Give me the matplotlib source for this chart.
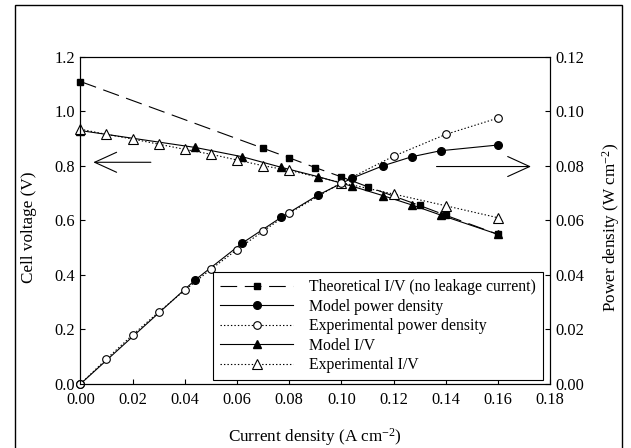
import matplotlib
matplotlib.use("Agg")
import matplotlib.pyplot as plt
from matplotlib.patches import Rectangle
from matplotlib.ticker import FormatStrFormatter, MultipleLocator

plt.rcParams['font.family'] = ['Liberation Serif', 'DejaVu Serif']
plt.rcParams['mathtext.fontset'] = 'custom'
plt.rcParams['mathtext.rm'] = 'Liberation Serif'
plt.rcParams['mathtext.default'] = 'regular'
plt.rcParams['lines.scale_dashes'] = False

# ---- data ----
theo_i = [0.0, 0.07, 0.08, 0.09, 0.10, 0.11, 0.13, 0.14, 0.16]
theo_v = [1.11, 0.865, 0.830, 0.794, 0.760, 0.724, 0.655, 0.619, 0.549]

model_i = [0.0, 0.044, 0.062, 0.077, 0.091, 0.104, 0.116, 0.127, 0.138, 0.160]
model_v = [0.930, 0.868, 0.834, 0.795, 0.761, 0.726, 0.691, 0.657, 0.620, 0.549]
model_p = [0.0, 0.0382, 0.0517, 0.0612, 0.0693, 0.0755, 0.0801, 0.0834, 0.0856, 0.0877]

exp_i = [0.0, 0.01, 0.02, 0.03, 0.04, 0.05, 0.06, 0.07, 0.08, 0.10, 0.12, 0.14, 0.16]
exp_v = [0.935, 0.916, 0.899, 0.880, 0.861, 0.843, 0.822, 0.801, 0.784, 0.739, 0.697, 0.654, 0.610]
exp_p = [0.0, 0.0092, 0.0180, 0.0264, 0.0344, 0.0421, 0.0493, 0.0561, 0.0627, 0.0739, 0.0836, 0.0916, 0.0976]

labels = ["Theoretical I/V (no leakage current)", "Model power density",
          "Experimental power density", "Model I/V", "Experimental I/V"]

FS_TICK = 11.8
FS_LEG = 11.3
FS_LAB = 12.3

fig = plt.figure(figsize=(6.31, 4.48), dpi=100)
fig.patches.append(Rectangle((0.0238, -0.05), 0.9615, 1.039, transform=fig.transFigure,
                             fill=False, edgecolor='black', linewidth=1.0, zorder=0))
ax = fig.add_axes([0.1274, 0.1429, 0.7446, 0.7299])
ax2 = ax.twinx()

lw = 0.8
h_theo, = ax.plot(theo_i, theo_v, color='black', lw=lw, dashes=(12, 5.5),
                  marker='s', ms=4.3, mfc='black', mec='black', clip_on=False)
h_miv, = ax.plot(model_i, model_v, color='black', lw=lw, ls='-',
                 marker='^', ms=6, mfc='black', mec='black', clip_on=False)
h_eiv, = ax.plot(exp_i, exp_v, color='black', lw=lw, dashes=(1, 1.5),
                 marker='^', ms=6.5, mfc='white', mec='black', mew=0.8, clip_on=False)
h_mp, = ax2.plot(model_i, model_p, color='black', lw=lw, ls='-',
                 marker='o', ms=5.5, mfc='black', mec='black', clip_on=False)
h_ep, = ax2.plot(exp_i, exp_p, color='black', lw=lw, dashes=(1, 1.5),
                 marker='o', ms=5.5, mfc='white', mec='black', mew=0.8, clip_on=False)

ax.set_xlim(0, 0.18)
ax.set_ylim(0, 1.2)
ax2.set_ylim(0, 0.12)
ax.xaxis.set_major_locator(MultipleLocator(0.02))
ax.yaxis.set_major_locator(MultipleLocator(0.2))
ax2.yaxis.set_major_locator(MultipleLocator(0.02))
ax.xaxis.set_major_formatter(FormatStrFormatter('%.2f'))
ax.yaxis.set_major_formatter(FormatStrFormatter('%.1f'))
ax2.yaxis.set_major_formatter(FormatStrFormatter('%.2f'))

for a in (ax, ax2):
    a.tick_params(direction='in', length=3.6, width=0.8, labelsize=FS_TICK, pad=4)
    for s in a.spines.values():
        s.set_linewidth(0.8)
ax.tick_params(top=False, right=False)
ax.tick_params(axis='x', pad=5.5)
ax2.tick_params(top=False)

ax.set_xlabel("Current density (A cm$^{-2}$)", fontsize=FS_LAB)
ax.set_ylabel("Cell voltage (V)", fontsize=FS_LAB)
ax2.set_ylabel("Power density (W cm$^{-2}$)", fontsize=FS_LAB)
ax.xaxis.set_label_coords(0.5, -0.128)
ax.yaxis.set_label_coords(-0.092, 0.48)
ax2.yaxis.set_label_coords(1.106, 0.48)

# arrows pointing to the axes
ax.annotate("", xy=(0.0275, 0.678), xytext=(0.150, 0.678), xycoords='axes fraction',
            arrowprops=dict(arrowstyle='->,head_length=15.8,head_width=7.2',
                            mutation_scale=1, lw=0.8, color='black', shrinkA=0, shrinkB=0))
ax.annotate("", xy=(0.959, 0.665), xytext=(0.758, 0.665), xycoords='axes fraction',
            arrowprops=dict(arrowstyle='->,head_length=15.8,head_width=7.2',
                            mutation_scale=1, lw=0.8, color='black', shrinkA=0, shrinkB=0))

leg = ax2.legend([h_theo, h_mp, h_ep, h_miv, h_eiv], labels, loc='lower right',
                 bbox_to_anchor=(0.985, 0.012), borderaxespad=0, fontsize=FS_LEG,
                 frameon=True, fancybox=False, handlelength=4.6, handletextpad=1.06,
                 labelspacing=0.22, borderpad=0.45)
leg.get_frame().set_edgecolor('black')
leg.get_frame().set_linewidth(0.8)
leg.get_frame().set_facecolor('white')
leg.get_frame().set_alpha(1)
leg.set_zorder(10)

fig.savefig("out.png", dpi=100)
